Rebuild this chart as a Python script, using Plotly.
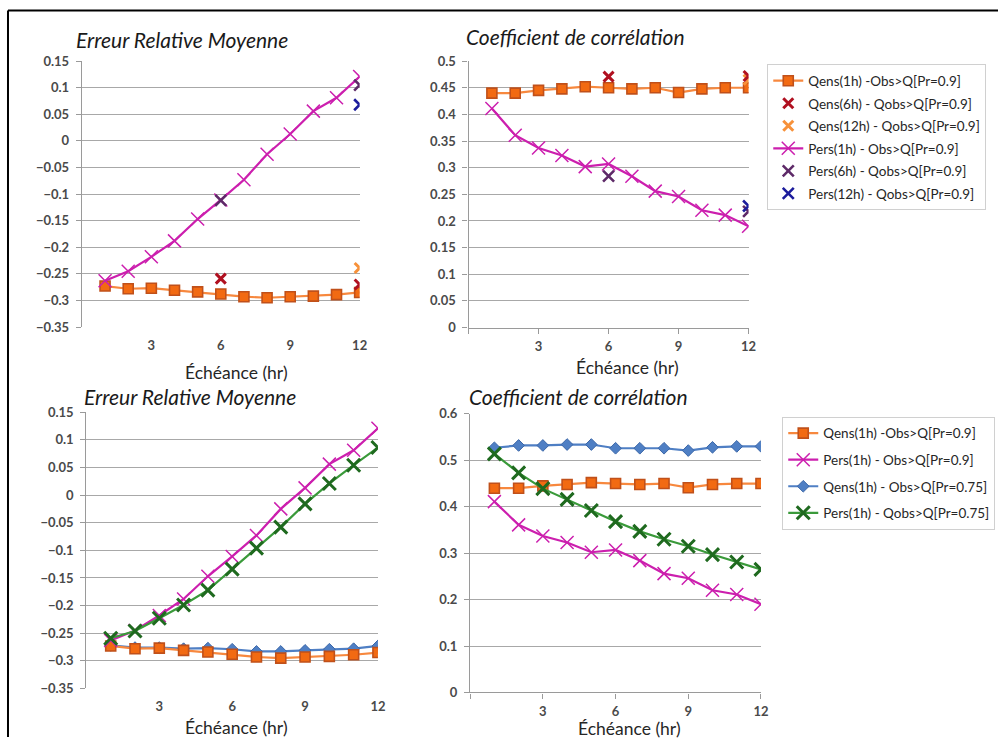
import plotly.graph_objects as go

W, H = 1006, 745

# Lead times (hours)
hours = list(range(1, 13))
tick_vals = [0, 3, 6, 9, 12]
tick_text = ["", "3", "6", "9", "12"]

# Mean relative error
erm_qens_1h = [-0.273, -0.278, -0.277, -0.281, -0.284, -0.288, -0.293, -0.295, -0.293, -0.292, -0.289, -0.285]
erm_pers_1h = [-0.263, -0.245, -0.218, -0.188, -0.147, -0.111, -0.073, -0.025, 0.013, 0.056, 0.081, 0.121]
erm_qens_6h_x = [6, 12]
erm_qens_6h = [-0.259, -0.270]
erm_qens_12h_x = [12]
erm_qens_12h = [-0.239]
erm_pers_6h_x = [6, 12]
erm_pers_6h = [-0.112, 0.105]
erm_pers_12h_x = [12]
erm_pers_12h = [0.068]
erm_qens_075 = [-0.272, -0.276, -0.276, -0.278, -0.277, -0.279, -0.283, -0.283, -0.281, -0.279, -0.278, -0.273]
erm_pers_075 = [-0.259, -0.246, -0.223, -0.199, -0.172, -0.134, -0.096, -0.058, -0.016, 0.021, 0.054, 0.086]

# Correlation coefficient
cc_qens_1h = [0.440, 0.440, 0.445, 0.448, 0.452, 0.450, 0.448, 0.450, 0.441, 0.448, 0.450, 0.450]
cc_pers_1h = [0.411, 0.361, 0.337, 0.323, 0.302, 0.307, 0.284, 0.256, 0.246, 0.220, 0.211, 0.190]
cc_qens_6h_x = [6, 12]
cc_qens_6h = [0.471, 0.472]
cc_qens_12h_x = [12]
cc_qens_12h = [0.465]
cc_pers_6h_x = [6, 12]
cc_pers_6h = [0.284, 0.218]
cc_pers_12h_x = [12]
cc_pers_12h = [0.228]
cc_qens_075 = [0.527, 0.532, 0.532, 0.534, 0.534, 0.526, 0.526, 0.526, 0.521, 0.528, 0.530, 0.530]
cc_pers_075 = [0.514, 0.473, 0.439, 0.416, 0.392, 0.368, 0.347, 0.330, 0.315, 0.297, 0.281, 0.265]

# Series names
N_QENS1 = "Qens(1h) -Obs>Q[Pr=0.9]"
N_QENS6 = "Qens(6h) - Qobs>Q[Pr=0.9]"
N_QENS12 = "Qens(12h) - Qobs>Q[Pr=0.9]"
N_PERS1 = "Pers(1h) - Obs>Q[Pr=0.9]"
N_PERS6 = "Pers(6h) - Qobs>Q[Pr=0.9]"
N_PERS12 = "Pers(12h) - Qobs>Q[Pr=0.9]"
N_QENS075 = "Qens(1h) - Obs>Q[Pr=0.75]"
N_PERS075 = "Pers(1h) - Qobs>Q[Pr=0.75]"

# Colours
C_ORANGE_LINE = "#F7883E"
C_ORANGE_FILL = "#F26A12"
C_ORANGE_EDGE = "#C0501A"
C_MAGENTA = "#CC1FAE"
C_DARKRED = "#B01020"
C_LIGHTOR = "#F7913A"
C_PURPLE = "#5E2A68"
C_NAVY = "#1C1C9C"
C_BLUE = "#4F7FC4"
C_GREEN_LINE = "#3A9A3A"
C_GREEN_MK = "#1F6A1F"

FONT = "Lato"
TICK_FONT = dict(family=FONT, size=13, color="#4A4A4A", weight="bold")


def px_x(p):
    return (p / 0.993) / W


def px_y(p):
    return 1 - ((p - 8.5) / 0.98) / H


fig = go.Figure()

# Plot areas in pixels: (left, right, top, bottom)
areas = {
    1: (82, 360, 61.7, 328.0),
    2: (469, 749.3, 61.7, 328.5),
    3: (86.5, 378.3, 413.3, 690.0),
    4: (470.6, 761.7, 415.0, 694.0),
}
yranges = {1: [-0.35, 0.15], 2: [0, 0.5], 3: [-0.35, 0.15], 4: [0, 0.6]}
ydticks = {1: 0.05, 2: 0.05, 3: 0.05, 4: 0.1}


def sq(width=1.6):
    return dict(symbol="square", size=10, color=C_ORANGE_FILL, line=dict(color=C_ORANGE_EDGE, width=width))


def xmark(color, size=11, width=1.6):
    return dict(symbol="x-thin", size=size, color=color, line=dict(color=color, width=width))


def add(sub, x, y, name, mode, line=None, marker=None, legend=None, show=False):
    sfx = "" if sub == 1 else str(sub)
    fig.add_trace(go.Scatter(
        x=x, y=y, name=name, mode=mode, line=line, marker=marker,
        xaxis="x" + sfx, yaxis="y" + sfx,
        legend=legend, showlegend=show, legendgroup=f"{legend}-{name}",
    ))


# Panel 1: mean relative error
add(1, hours, erm_qens_1h, N_QENS1, "lines+markers", dict(color=C_ORANGE_LINE, width=2.2), sq(), "legend", True)
add(1, erm_qens_6h_x, erm_qens_6h, N_QENS6, "markers", None, xmark(C_DARKRED, 10, 3), "legend", True)
add(1, erm_qens_12h_x, erm_qens_12h, N_QENS12, "markers", None, xmark(C_LIGHTOR, 10, 3), "legend", True)
add(1, hours, erm_pers_1h, N_PERS1, "lines+markers", dict(color=C_MAGENTA, width=2.2), xmark(C_MAGENTA, 13, 1.5), "legend", True)
add(1, erm_pers_6h_x, erm_pers_6h, N_PERS6, "markers", None, xmark(C_PURPLE, 11, 2.6), "legend", True)
add(1, erm_pers_12h_x, erm_pers_12h, N_PERS12, "markers", None, xmark(C_NAVY, 11, 2.6), "legend", True)

# Panel 2: correlation coefficient
add(2, hours, cc_qens_1h, N_QENS1, "lines+markers", dict(color=C_ORANGE_LINE, width=2.2), sq())
add(2, cc_qens_12h_x, cc_qens_12h, N_QENS12, "markers", None, xmark(C_LIGHTOR, 10, 3))
add(2, cc_qens_6h_x, cc_qens_6h, N_QENS6, "markers", None, xmark(C_DARKRED, 10, 3))
add(2, hours, cc_pers_1h, N_PERS1, "lines+markers", dict(color=C_MAGENTA, width=2.2), xmark(C_MAGENTA, 13, 1.5))
add(2, cc_pers_6h_x, cc_pers_6h, N_PERS6, "markers", None, xmark(C_PURPLE, 11, 2.6))
add(2, cc_pers_12h_x, cc_pers_12h, N_PERS12, "markers", None, xmark(C_NAVY, 11, 2.6))

# Panels 3 & 4: both quantile levels
dia = dict(symbol="diamond", size=9, color=C_BLUE, line=dict(color="#3A66A8", width=1))
for sub, q1, p1, q75, p75 in [(3, erm_qens_1h, erm_pers_1h, erm_qens_075, erm_pers_075),
                              (4, cc_qens_1h, cc_pers_1h, cc_qens_075, cc_pers_075)]:
    leg = "legend2" if sub == 4 else None
    show = sub == 4
    add(sub, hours, q75, N_QENS075, "lines+markers", dict(color=C_BLUE, width=2.2), dia, leg, show)
    add(sub, hours, q1, N_QENS1, "lines+markers", dict(color=C_ORANGE_LINE, width=2.2), sq(), leg, show)
    add(sub, hours, p1, N_PERS1, "lines+markers", dict(color=C_MAGENTA, width=2.2), xmark(C_MAGENTA, 13, 1.5), leg, show)
    add(sub, hours, p75, N_PERS075, "lines+markers", dict(color=C_GREEN_LINE, width=2.2), xmark(C_GREEN_MK, 13, 3), leg, show)

# Legend order in the lower legend
order2 = [N_QENS1, N_PERS1, N_QENS075, N_PERS075]
for tr in fig.data:
    if tr.legend == "legend2":
        tr.legendrank = 1000 + order2.index(tr.name)

layout = {}
for sub, (l, r, t, b) in areas.items():
    sfx = "" if sub == 1 else str(sub)
    ykey = "yaxis" + sfx
    xkey = "xaxis" + sfx
    y0, y1 = yranges[sub]
    starts_at_zero = y0 == 0
    layout[xkey] = dict(
        domain=[px_x(l), px_x(r)], range=[0, 12], anchor="y" + sfx,
        tickvals=tick_vals, ticktext=tick_text, showgrid=False, zeroline=False,
        showline=starts_at_zero, linecolor="#9A9A9A", linewidth=1.3,
        ticks="outside" if starts_at_zero else "", ticklen=5, tickcolor="#9A9A9A",
        tickfont=TICK_FONT, ticklabelstandoff=2 if starts_at_zero else 9,
    )
    layout[ykey] = dict(
        domain=[px_y(b), px_y(t)], range=[y0, y1], anchor="x" + sfx,
        dtick=ydticks[sub], tick0=0, showgrid=True, gridcolor="#A8A8A8", gridwidth=1.1,
        zeroline=False, showline=True, linecolor="#9A9A9A", linewidth=1.3,
        ticks="outside", ticklen=5, tickcolor="#9A9A9A", tickfont=TICK_FONT,
        ticklabelstandoff=4,
    )

# Horizontal axis line through zero for the error panels
for sub, extra in [(1, 5), (3, 6)]:
    l, r, t, b = areas[sub]
    y0, y1 = yranges[sub]
    frac = (0 - y0) / (y1 - y0)
    pos = px_y(b) + frac * (px_y(t) - px_y(b))
    layout["xaxis" + str(extra)] = dict(
        domain=[px_x(l), px_x(r)], range=[0, 12], overlaying="x" if sub == 1 else "x3",
        anchor="free", position=pos, side="bottom",
        tickvals=tick_vals, showticklabels=False, showgrid=False, zeroline=False,
        showline=True, linecolor="#9A9A9A", linewidth=1.3, ticks="outside",
        ticklen=5, tickcolor="#9A9A9A",
    )

annotations = []
titles = [
    ("Erreur Relative Moyenne", 74, 40),
    ("Coefficient de corrélation", 464, 37),
    ("Erreur Relative Moyenne", 82, 398),
    ("Coefficient de corrélation", 467, 398),
]
for text, x, y in titles:
    annotations.append(dict(
        text=text, x=px_x(x), y=px_y(y), xref="paper", yref="paper",
        xanchor="left", yanchor="middle", showarrow=False,
        font=dict(family=FONT, size=21, color="#1A1A1A", style="italic"),
    ))
for x, y in [(236.5, 374), (628, 369), (236.5, 729), (630, 730)]:
    annotations.append(dict(
        text="Échéance (hr)", x=px_x(x), y=px_y(y), xref="paper", yref="paper",
        xanchor="center", yanchor="middle", showarrow=False,
        font=dict(family=FONT, size=17.5, color="#262626"),
    ))

shapes = [
    dict(type="line", xref="paper", yref="paper", x0=px_x(8), x1=px_x(8), y0=0, y1=px_y(11),
         line=dict(color="black", width=2)),
    dict(type="line", xref="paper", yref="paper", x0=px_x(8), x1=1, y0=px_y(11), y1=px_y(11),
         line=dict(color="black", width=2)),
]

legend_font = dict(family=FONT, size=13.5, color="#262626")
fig.update_layout(
    **layout,
    width=W, height=H,
    margin=dict(l=0, r=0, t=0, b=0),
    paper_bgcolor="white", plot_bgcolor="white",
    annotations=annotations, shapes=shapes,
    legend=dict(
        x=px_x(768), y=px_y(65), xanchor="left", yanchor="top",
        bgcolor="white", bordercolor="#D0D0D0", borderwidth=1,
        font=legend_font, traceorder="grouped", tracegroupgap=2,
        itemwidth=30,
    ),
    legend2=dict(
        x=px_x(783), y=px_y(418), xanchor="left", yanchor="top",
        bgcolor="white", bordercolor="#D0D0D0", borderwidth=1,
        font=legend_font, traceorder="grouped", tracegroupgap=6,
        itemwidth=30,
    ),
)

fig.write_html("out.html")
